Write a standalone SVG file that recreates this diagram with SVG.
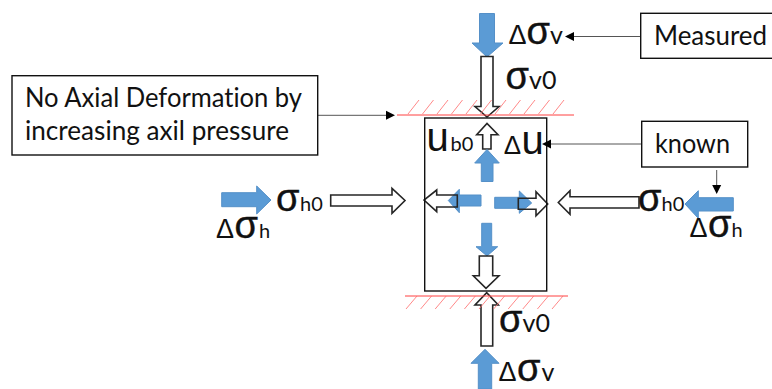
<svg xmlns="http://www.w3.org/2000/svg" width="772" height="389" viewBox="0 0 772 389">
<style>
.b{fill:#5b9bd5;stroke:#5590c8;stroke-width:1}
.w{fill:#fff;stroke:#262626;stroke-width:1.6}
.o{fill:none;stroke:#262626;stroke-width:1.6}
.box{fill:#fff;stroke:#111;stroke-width:1.4}
.h{stroke:#ff6a6a;stroke-width:.8;fill:none}
.r{stroke:#ff4040;stroke-width:1;fill:none}
.l{stroke:#555;stroke-width:1;fill:none}
.ah{fill:#000}
text{font-family:Lato,"Liberation Sans",sans-serif;fill:#111;font-variant-ligatures:none}
.t{font-size:26px}
.s{font-size:38px;font-family:"Liberation Sans",sans-serif;stroke:#111;stroke-width:.4}
.u{font-size:40px;font-family:"Liberation Sans",sans-serif}
.sub{font-size:20px}
.v{font-size:25px}
.d{font-size:27px;font-family:"Liberation Sans",sans-serif}
.d2{font-size:26px;font-family:"Liberation Sans",sans-serif}
</style>
<rect width="772" height="389" fill="#fff"/>
<g id="arrows">
<path class="b" d="M479.500 13.500H494.500V43H503L487 57L472 43H479.500Z"/>
<path class="w" d="M481 56.500H493V106.500H499L487 117L475 106.500H481Z"/>
<path class="w" d="M482.700 149V134.700H476.700L487 123.500L498 134.700H491V149Z"/>
<path class="b" d="M481.300 181.500V163H474.700L487 149.500L499.300 163H493V181.500Z"/>
<path class="b" d="M481 195V206H459.300V212.700L448.300 200.500L459.300 189.300V195Z"/>
<path class="o" d="M457.300 195V207H436.700V211.700L424 200L436.700 190V195Z"/>
<path class="b" d="M494.700 197.300H519.300V191L531.700 203L519.300 213.300V208.300H494.700Z"/>
<path class="o" d="M518.300 198.300H536V191.700L547.700 204L536 215.700V209.300H518.300Z"/>
<path class="b" d="M481.700 223.300H491.700V246.700H497.700L487 256L476 246.700H481.700Z"/>
<path class="w" d="M479.300 256H492.700V275.700H499L486 288.300L473.300 275.700H479.300Z"/>
<path class="w" d="M481 346V305H475L486.700 292.700L498.300 305H492.700V346Z"/>
<path class="b" d="M478.300 389V363.300H471L485 349.300L499 363.300H491.700V389Z"/>
<path class="b" d="M221.700 192.700H256.700V186L271 200L256.700 214V206.700H221.700Z"/>
<path class="w" d="M330.700 195H392V188.300L405 200.500L392 213.300V206H330.700Z"/>
<path class="w" d="M639 196.700H570V190.700L558.300 202.500L570 214.300V208H639Z"/>
<path class="b" d="M733.300 197.700H698.300V190.700L685 204L698.300 218.300V211H733.300Z"/>
</g>
<g id="specimen"><rect x="424.700" y="118" width="122" height="173" fill="none" stroke="#111" stroke-width="1.4"/></g>
<g id="platens">
<path class="r" d="M397 115H574M405 296H568"/>
<path class="h" d="M408 114l11-14M422.500 114l11-14M437 114l11-14M451.500 114l11-14M466 114l11-14M480.500 114l11-14M495 114l11-14M509.500 114l11-14M524 114l11-14M538.500 114l11-14M553 114l11-14M406 309l11-13M420.600 309l11-13M435.200 309l11-13M449.800 309l11-13M464.400 309l11-13M479 309l11-13M493.600 309l11-13M508.200 309l11-13M522.800 309l11-13M537.400 309l11-13M552 309l11-13"/>
</g>
<g id="connectors">
<path class="l" d="M641 36.500H573"/><path class="ah" d="M565 36.500l9-4.500v9Z"/>
<path class="l" d="M318 115.300H387"/><path class="ah" d="M395 115.300l-9-4.500v9Z"/>
<path class="l" d="M641.700 144H551"/><path class="ah" d="M542 144l9-4.500v9Z"/>
<path class="l" d="M716.700 170V187"/><path class="ah" d="M716.700 194l-4.500-9h9Z"/>
</g>
<g id="measured"><rect class="box" x="640.700" y="13.300" width="140" height="45"/><text class="t" x="654" y="45" textLength="113" lengthAdjust="spacingAndGlyphs">Measured</text></g>
<g id="note"><rect class="box" x="12" y="75.700" width="305.700" height="79.300"/><text class="t" x="25" y="107" textLength="277" lengthAdjust="spacingAndGlyphs">No Axial Deformation by</text><text class="t" x="25" y="140" textLength="264" lengthAdjust="spacingAndGlyphs">increasing axil pressure</text></g>
<g id="known"><rect class="box" x="641.700" y="121.300" width="106" height="45.700"/><text class="t" x="655" y="153" textLength="75" lengthAdjust="spacingAndGlyphs">known</text></g>
<g id="labels">
<text y="44"><tspan class="d" x="508.500">Δ</tspan><tspan class="s" x="526.500">σ</tspan><tspan class="v" x="550">v</tspan></text>
<text y="89"><tspan class="s" x="505.500">σ</tspan><tspan class="v" x="529">v0</tspan></text>
<text y="150.500"><tspan class="u" x="426.500">u</tspan><tspan class="sub" x="450.500">b0</tspan></text>
<text y="154"><tspan class="d2" x="503.800">Δ</tspan><tspan class="u" x="521.500">u</tspan></text>
<text y="210.500"><tspan class="s" x="276">σ</tspan><tspan class="sub" x="300">h0</tspan></text>
<text y="238"><tspan class="d" x="216">Δ</tspan><tspan class="s" x="234.500">σ</tspan><tspan class="sub" x="259">h</tspan></text>
<text y="210.500"><tspan class="s" x="638">σ</tspan><tspan class="sub" x="661.500">h0</tspan></text>
<text y="237"><tspan class="d" x="689.500">Δ</tspan><tspan class="s" x="708">σ</tspan><tspan class="sub" x="731.500">h</tspan></text>
<text y="331.700"><tspan class="s" x="499">σ</tspan><tspan class="v" x="522.500">v0</tspan></text>
<text y="380.800"><tspan class="d" x="498.500">Δ</tspan><tspan class="s" x="517">σ</tspan><tspan class="v" x="541.500">v</tspan></text>
</g>
</svg>
